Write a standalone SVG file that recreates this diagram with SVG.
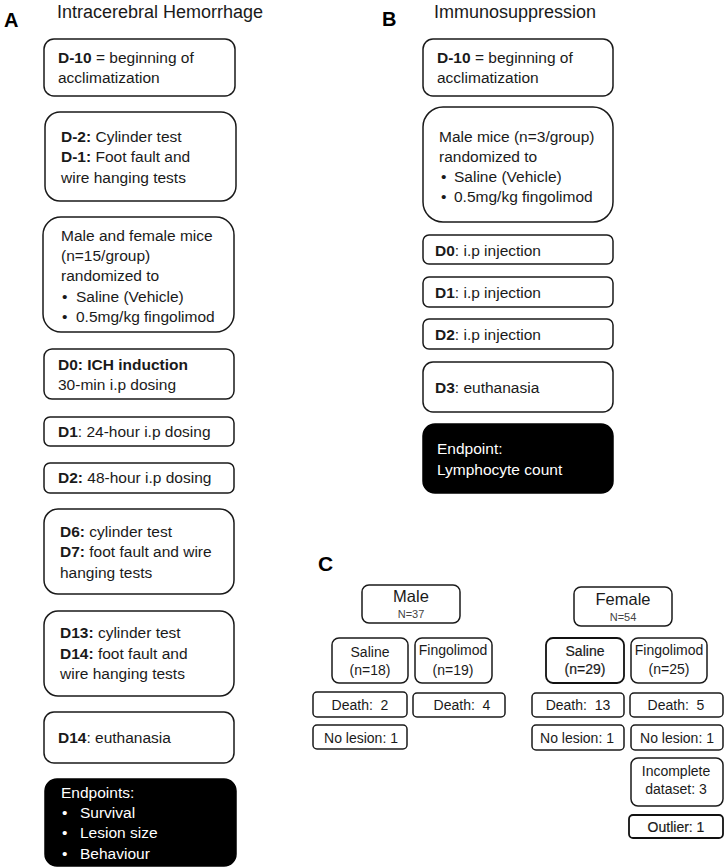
<svg xmlns="http://www.w3.org/2000/svg" width="726" height="867" viewBox="0 0 726 867">
<style>
text{font-family:"Liberation Sans",Arial,sans-serif;fill:#1a1a1a}
.t{font-size:15.5px}
.b{font-weight:bold}
.lbl{font-size:20px;font-weight:bold;fill:#000}
.ttl{font-size:18px}
.box{fill:#fff;stroke:#1a1a1a;stroke-width:1.5}
.blk{fill:#000;stroke:#000;stroke-width:1.5}
.w{fill:#fff}
.c{font-size:14px;text-anchor:middle}
.cb{fill:#fff;stroke:#1a1a1a;stroke-width:1.5}
.cbb{fill:#fff;stroke:#111;stroke-width:1.8}
.hd{font-size:16.5px;text-anchor:middle}
.sm{font-size:11px;text-anchor:middle;fill:#444}
.em{stroke:#1a1a1a;stroke-width:0.2}
</style>

<text class="lbl" x="4" y="27">A</text>
<text class="ttl" x="57" y="18">Intracerebral Hemorrhage</text>
<text class="lbl" x="382" y="26">B</text>
<text class="ttl" x="434" y="18">Immunosuppression</text>
<text class="lbl" x="318" y="571" style="font-size:21px">C</text>

<g id="connectors"></g>

<!-- Panel A -->
<g id="a1">
<rect class="box" x="44" y="39" width="191" height="57" rx="10"/>
<text class="t" x="58" y="63"><tspan class="b">D-10</tspan> = beginning of</text>
<text class="t" x="58" y="83">acclimatization</text>
</g>
<g id="a2">
<rect class="box" x="45" y="112" width="191" height="89" rx="15"/>
<text class="t" x="61" y="142"><tspan class="b">D-2:</tspan> Cylinder test</text>
<text class="t" x="61" y="162"><tspan class="b">D-1:</tspan> Foot fault and</text>
<text class="t" x="61" y="183">wire hanging tests</text>
</g>
<g id="a3">
<rect class="box" x="43" y="217" width="191" height="115" rx="18"/>
<text class="t" x="61" y="241">Male and female mice</text>
<text class="t" x="61" y="261">(n=15/group)</text>
<text class="t" x="61" y="281">randomized to</text>
<text class="t" x="62" y="302">•</text><text class="t" x="76" y="302">Saline (Vehicle)</text>
<text class="t" x="62" y="322">•</text><text class="t" x="76" y="322">0.5mg/kg fingolimod</text>
</g>
<g id="a4">
<rect class="box" x="44" y="349" width="190" height="50" rx="8"/>
<text class="t b" x="58" y="370">D0: ICH induction</text>
<text class="t" x="58" y="390">30-min i.p dosing</text>
</g>
<g id="a5">
<rect class="box" x="44" y="417" width="190" height="29" rx="6"/>
<text class="t" x="58" y="437"><tspan class="b">D1</tspan>: 24-hour i.p dosing</text>
</g>
<g id="a6">
<rect class="box" x="44" y="463" width="190" height="30" rx="6"/>
<text class="t" x="58" y="483"><tspan class="b">D2:</tspan> 48-hour i.p dosing</text>
</g>
<g id="a7">
<rect class="box" x="44" y="509" width="190" height="85" rx="14"/>
<text class="t" x="60" y="537"><tspan class="b">D6:</tspan> cylinder test</text>
<text class="t" x="60" y="557"><tspan class="b">D7:</tspan> foot fault and wire</text>
<text class="t" x="60" y="578">hanging tests</text>
</g>
<g id="a8">
<rect class="box" x="44" y="611" width="190" height="85" rx="14"/>
<text class="t" x="60" y="638"><tspan class="b">D13:</tspan> cylinder test</text>
<text class="t" x="60" y="659"><tspan class="b">D14:</tspan> foot fault and</text>
<text class="t" x="60" y="679">wire hanging tests</text>
</g>
<g id="a9">
<rect class="box" x="44" y="712" width="190" height="51" rx="10"/>
<text class="t" x="58" y="743"><tspan class="b">D14</tspan>: euthanasia</text>
</g>
<g id="a10">
<rect class="blk" x="45" y="779" width="191" height="87" rx="12"/>
<text class="t w" x="61" y="798">Endpoints:</text>
<text class="t w" x="62" y="818">•</text><text class="t w" x="80" y="818">Survival</text>
<text class="t w" x="62" y="838">•</text><text class="t w" x="80" y="838">Lesion size</text>
<text class="t w" x="62" y="859">•</text><text class="t w" x="80" y="859">Behaviour</text>
</g>

<!-- Panel B -->
<g id="b1">
<rect class="box" x="423" y="39" width="190" height="57" rx="10"/>
<text class="t" x="437" y="63"><tspan class="b">D-10</tspan> = beginning of</text>
<text class="t" x="437" y="83">acclimatization</text>
</g>
<g id="b2">
<rect class="box" x="423" y="107" width="190" height="115" rx="20"/>
<text class="t" x="439" y="142">Male mice (n=3/group)</text>
<text class="t" x="439" y="162">randomized to</text>
<text class="t" x="441" y="182">•</text><text class="t" x="454" y="182">Saline (Vehicle)</text>
<text class="t" x="441" y="202">•</text><text class="t" x="454" y="202">0.5mg/kg fingolimod</text>
</g>
<g id="b3">
<rect class="box" x="423" y="235" width="190" height="29" rx="6"/>
<text class="t" x="435" y="256"><tspan class="b">D0</tspan>: i.p injection</text>
</g>
<g id="b4">
<rect class="box" x="423" y="277" width="190" height="30" rx="6"/>
<text class="t" x="435" y="298"><tspan class="b">D1</tspan>: i.p injection</text>
</g>
<g id="b5">
<rect class="box" x="423" y="319" width="190" height="30" rx="6"/>
<text class="t" x="435" y="340"><tspan class="b">D2</tspan>: i.p injection</text>
</g>
<g id="b6">
<rect class="box" x="423" y="362" width="190" height="50" rx="10"/>
<text class="t" x="435" y="393"><tspan class="b">D3</tspan>: euthanasia</text>
</g>
<g id="b7">
<rect class="blk" x="423" y="424" width="190" height="69" rx="12"/>
<text class="t w" x="437" y="454">Endpoint:</text>
<text class="t w" x="437" y="475">Lymphocyte count</text>
</g>

<!-- Panel C -->
<g id="male">
<rect class="cb" x="362" y="585" width="98" height="38" rx="7"/>
<text class="hd" x="411" y="602">Male</text>
<text class="sm" x="411" y="618">N=37</text>
</g>
<g id="m-saline">
<rect class="cb" x="332" y="638" width="76" height="45" rx="7"/>
<text class="c" x="370" y="657">Saline</text>
<text class="c" x="370" y="675">(n=18)</text>
</g>
<g id="m-fingo">
<rect class="cb" x="415" y="638" width="77" height="45" rx="7"/>
<text class="c" x="453" y="655">Fingolimod</text>
<text class="c" x="453" y="675">(n=19)</text>
</g>
<g id="m-death-s">
<rect class="cb" x="313" y="692" width="94" height="25" rx="4"/>
<text class="c" x="360" y="710" xml:space="preserve">Death:  2</text>
</g>
<g id="m-death-f">
<rect class="cb" x="413" y="693" width="92" height="24" rx="4"/>
<text class="c" x="462" y="710" xml:space="preserve">Death:  4</text>
</g>
<g id="m-nolesion">
<rect class="cb" x="313" y="725" width="94" height="24" rx="4"/>
<text class="c" x="361" y="743">No lesion: 1</text>
</g>

<g id="female">
<rect class="cb" x="574" y="587" width="98" height="39" rx="7"/>
<text class="hd" x="623" y="605">Female</text>
<text class="sm" x="623" y="621">N=54</text>
</g>
<g id="f-saline">
<rect class="cbb" x="546" y="638" width="78" height="45" rx="7"/>
<text class="c em" x="585" y="656">Saline</text>
<text class="c em" x="585" y="674">(n=29)</text>
</g>
<g id="f-fingo">
<rect class="cb" x="631" y="638" width="76" height="45" rx="7"/>
<text class="c" x="669" y="655">Fingolimod</text>
<text class="c" x="669" y="674">(n=25)</text>
</g>
<g id="f-death-s">
<rect class="cb" x="532" y="693" width="92" height="24" rx="4"/>
<text class="c" x="578" y="710" xml:space="preserve">Death:  13</text>
</g>
<g id="f-death-f">
<rect class="cb" x="630" y="693" width="93" height="24" rx="4"/>
<text class="c" x="676" y="710" xml:space="preserve">Death:  5</text>
</g>
<g id="f-nolesion-s">
<rect class="cb" x="532" y="725" width="92" height="25" rx="4"/>
<text class="c" x="577" y="743">No lesion: 1</text>
</g>
<g id="f-nolesion-f">
<rect class="cb" x="631" y="725" width="92" height="25" rx="4"/>
<text class="c" x="677" y="743">No lesion: 1</text>
</g>
<g id="f-incomplete">
<rect class="cb" x="631" y="758" width="92" height="48" rx="7"/>
<text class="c" x="676" y="776">Incomplete</text>
<text class="c" x="676" y="794">dataset: 3</text>
</g>
<g id="f-outlier">
<rect class="cbb" x="629" y="815" width="94" height="23" rx="4"/>
<text class="c em" x="676" y="832">Outlier: 1</text>
</g>
</svg>
